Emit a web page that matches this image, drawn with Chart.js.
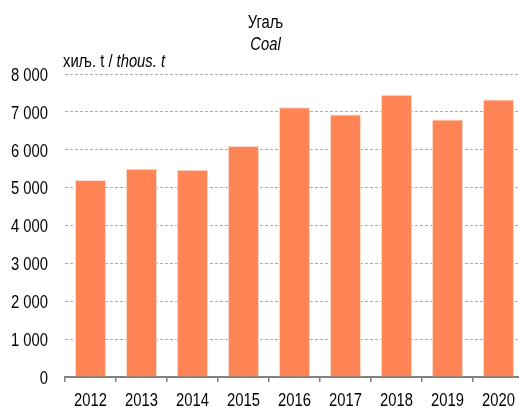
<!DOCTYPE html>
<html>
<head>
<meta charset="utf-8">
<script src="https://cdn.jsdelivr.net/npm/chart.js@4"></script>
<style>
  html, body { margin: 0; padding: 0; background: #fff; overflow: hidden; }
  #wrap { width: 524px; height: 408px; }
</style>
</head>
<body>
<div id="wrap"><canvas id="coal"></canvas></div>
<script>
const years = ["2012", "2013", "2014", "2015", "2016", "2017", "2018", "2019", "2020"];
const coal = [5200, 5500, 5470, 6100, 7120, 6930, 7450, 6800, 7330];
const yTicks = [0, 1000, 2000, 3000, 4000, 5000, 6000, 7000, 8000];

const FONT = "'Liberation Sans', Arial, sans-serif";
const NARROW = 0.82; // no narrow face installed, squeeze the regular one

function fmt(v) {
  return String(v).replace(/\B(?=(\d{3})+(?!\d))/g, " ");
}

// draw text squeezed horizontally, anchored at x
function narrowText(c, txt, x, y, align) {
  const w = c.measureText(txt).width * NARROW;
  let left = x;
  if (align === "center") left = x - w / 2;
  if (align === "right") left = x - w;
  c.save();
  c.translate(left, y);
  c.scale(NARROW, 1);
  c.textAlign = "left";
  c.fillText(txt, 0, 0);
  c.restore();
  return w;
}

const textPlugin = {
  id: "texts",
  afterDraw(chart) {
    const c = chart.ctx;
    const xs = chart.scales.x, ys = chart.scales.y;
    c.save();
    c.fillStyle = "#000";
    c.textBaseline = "alphabetic";

    c.font = "18px " + FONT;
    narrowText(c, "Угаљ", 265.5, 27.5, "center");
    c.font = "italic 18px " + FONT;
    narrowText(c, "Coal", 265.5, 50, "center");

    c.font = "18px " + FONT;
    let x = 63;
    x += narrowText(c, "хиљ. t / ", x, 66.5, "left");
    c.font = "italic 18px " + FONT;
    narrowText(c, "thous. t", x, 66.5, "left");

    // tick labels
    c.font = "18px " + FONT;
    years.forEach((yr, i) => {
      narrowText(c, yr, xs.getPixelForTick(i), 405.5, "center");
    });
    yTicks.forEach(v => {
      narrowText(c, fmt(v), 48, ys.getPixelForValue(v) + 6.8, "right");
    });
    c.restore();
  }
};

new Chart(document.getElementById("coal"), {
  type: "bar",
  data: {
    labels: years,
    datasets: [{
      data: coal,
      backgroundColor: "#FF8456",
      borderColor: "#FDD9CB",
      borderWidth: 1,
      barPercentage: 0.61,
      categoryPercentage: 1.0
    }]
  },
  options: {
    responsive: true,
    maintainAspectRatio: false,
    animation: false,
    layout: { padding: { top: 74, left: 0, right: 0, bottom: 0 } },
    plugins: {
      legend: { display: false },
      tooltip: { enabled: false }
    },
    scales: {
      x: {
        grid: {
          drawOnChartArea: false,
          drawTicks: true,
          tickLength: 5,
          color: "#808080",
          lineWidth: 1.5
        },
        border: { color: "#808080", width: 2 },
        ticks: { display: false },
        afterFit(scale) { scale.height = 31; }
      },
      y: {
        min: 0,
        max: 8000,
        afterBuildTicks(scale) { scale.ticks = yTicks.map(v => ({ value: v })); },
        grid: {
          drawTicks: false,
          color: ctx => ctx.tick && ctx.tick.value === 0 ? "rgba(0,0,0,0)" : "#ADADAD",
          lineWidth: 1
        },
        border: { display: false, dash: [3, 2] },
        ticks: { display: false },
        afterFit(scale) { scale.width = 65; }
      }
    }
  },
  plugins: [textPlugin]
});
</script>
</body>
</html>
